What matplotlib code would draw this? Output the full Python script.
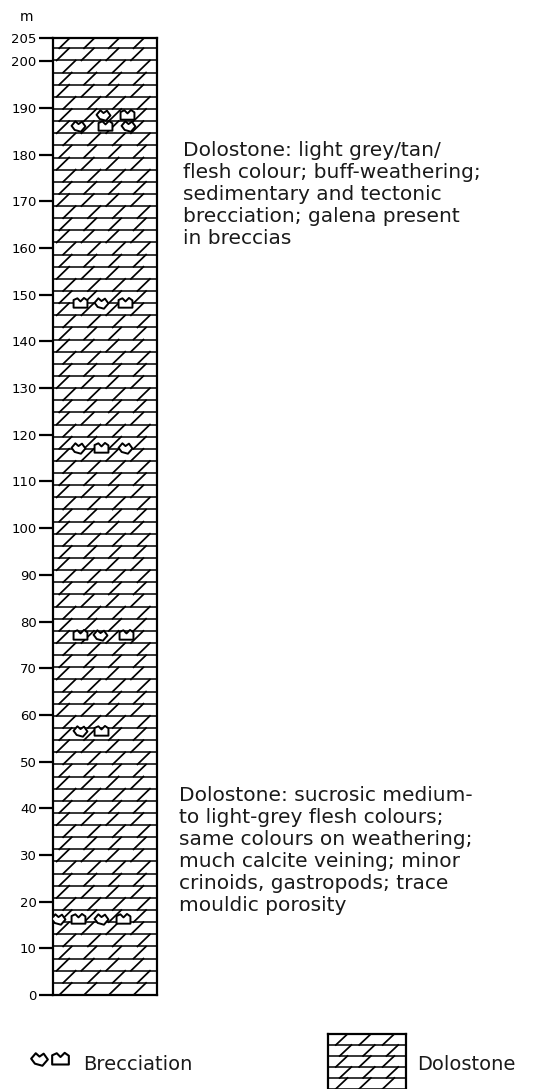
import numpy as np
import matplotlib
matplotlib.use("Agg")
import matplotlib.pyplot as plt
from matplotlib.path import Path

plt.rcParams['font.family'] = ['DejaVu Sans']

top_m = 205
bed_thick = 2.6          # approx. bed spacing in the column
tick_vals = [0, 10, 20, 30, 40, 50, 60, 70, 80, 90, 100, 110, 120, 130, 140,
             150, 160, 170, 180, 190, 200, 205]
tick_labels = [str(v) for v in tick_vals]

breccia_m = [188.4, 188.4, 186.2, 186.2, 186.2,
             148.2, 148.2, 148.2,
             117.1, 117.1, 117.1,
             77.1, 77.1, 77.1,
             56.6, 56.6,
             16.2, 16.2, 16.2, 16.2]
breccia_x = [1.93, 2.85, 0.97, 2.0, 2.89,
             1.05, 1.87, 2.77,
             0.98, 1.87, 2.77,
             1.05, 1.81, 2.83,
             1.05, 1.87,
             0.2, 0.98, 1.87, 2.7]

upper_text = ("Dolostone: light grey/tan/\nflesh colour; buff-weathering;\n"
              "sedimentary and tectonic\nbrecciation; galena present\nin breccias")
lower_text = ("Dolostone: sucrosic medium-\nto light-grey flesh colours;\n"
              "same colours on weathering;\nmuch calcite veining; minor\n"
              "crinoids, gastropods; trace\nmouldic porosity")

# breccia clast outlines
shapeA = Path([(-1, 0.1), (-0.45, 0.75), (0.0, 0.35), (0.5, 0.7), (1, 0.0),
               (0.35, -0.75), (-0.55, -0.5), (-1, 0.1)], closed=True)
shapeB = Path([(-1, -0.6), (-1, 0.5), (-0.45, 0.75), (0.0, 0.3), (0.5, 0.8),
               (1, 0.45), (1, -0.6), (-1, -0.6)], closed=True)


def dolostone(ax, y0, y1, dy, xw, offs, step, dx):
    edges = np.arange(y0, y1 + dy * 0.5, dy)
    for i in range(len(edges) - 1):
        a, b = edges[i], edges[i + 1]
        ax.plot([0, xw], [a, a], color='k', lw=1.1, solid_capstyle='butt')
        for x0 in np.arange(offs[i % len(offs)], xw - dx, step):
            ax.plot([x0, x0 + dx], [a, b], color='k', lw=1.25)


W, H = 557, 1089
fig = plt.figure(figsize=(W / 100, H / 100), dpi=100)

# column
ax = fig.add_axes([52.7 / W, (H - 995) / H, 104.3 / W, 957 / H])
ax.set_xlim(0, 4)
ax.set_ylim(0, top_m)
dolostone(ax, 0, top_m, bed_thick, 4, [0.25, 0.4, 0.15], 0.95, 0.48)
for i, (m, x) in enumerate(zip(breccia_m, breccia_x)):
    ax.plot(x, m, marker=shapeA if i % 2 == 0 else shapeB, ms=10,
            mfc='white', mec='k', mew=1.4, ls='none', zorder=5)

ax.set_yticks(tick_vals)
ax.set_yticklabels(tick_labels, fontsize=9.5)
ax.tick_params(axis='y', length=10, width=1.6, pad=1.5)
ax.set_xticks([])
for s in ax.spines.values():
    s.set_linewidth(1.6)

fig.text(27 / W, 1 - 17 / H, 'm', fontsize=10, ha='center', va='center')

# descriptions
fig.text(183 / W, 1 - 141 / H, upper_text, fontsize=14.5, va='top', ha='left',
         linespacing=1.2, color='#1a1a1a')
fig.text(179 / W, 1 - 786 / H, lower_text, fontsize=14.5, va='top', ha='left',
         linespacing=1.2, color='#1a1a1a')

# legend
lax = fig.add_axes([0, 0, 1, 1], facecolor='none')
lax.set_xlim(0, W)
lax.set_ylim(H, 0)
lax.axis('off')
lax.plot(39, 1059, marker=shapeA, ms=12, mfc='white', mec='k', mew=1.5)
lax.plot(60, 1059, marker=shapeB, ms=12, mfc='white', mec='k', mew=1.5)
lax.text(83, 1064, 'Brecciation', fontsize=14, va='center', ha='left',
         color='#1a1a1a')
lax.text(417, 1064, 'Dolostone', fontsize=14, va='center', ha='left',
         color='#1a1a1a')

bax = fig.add_axes([328 / W, -0.01, 78 / W, (H - 1034) / H + 0.01])
bax.set_xlim(0, 3)
bax.set_ylim(0, 6)
bax.set_xticks([])
bax.set_yticks([])
for s in bax.spines.values():
    s.set_linewidth(1.6)
dolostone(bax, 1.0, 6, 1.0, 3, [0.3, 0.45], 0.9, 0.45)
bax.set_ylim(0.0, 6)

fig.savefig('out.png', dpi=100)
